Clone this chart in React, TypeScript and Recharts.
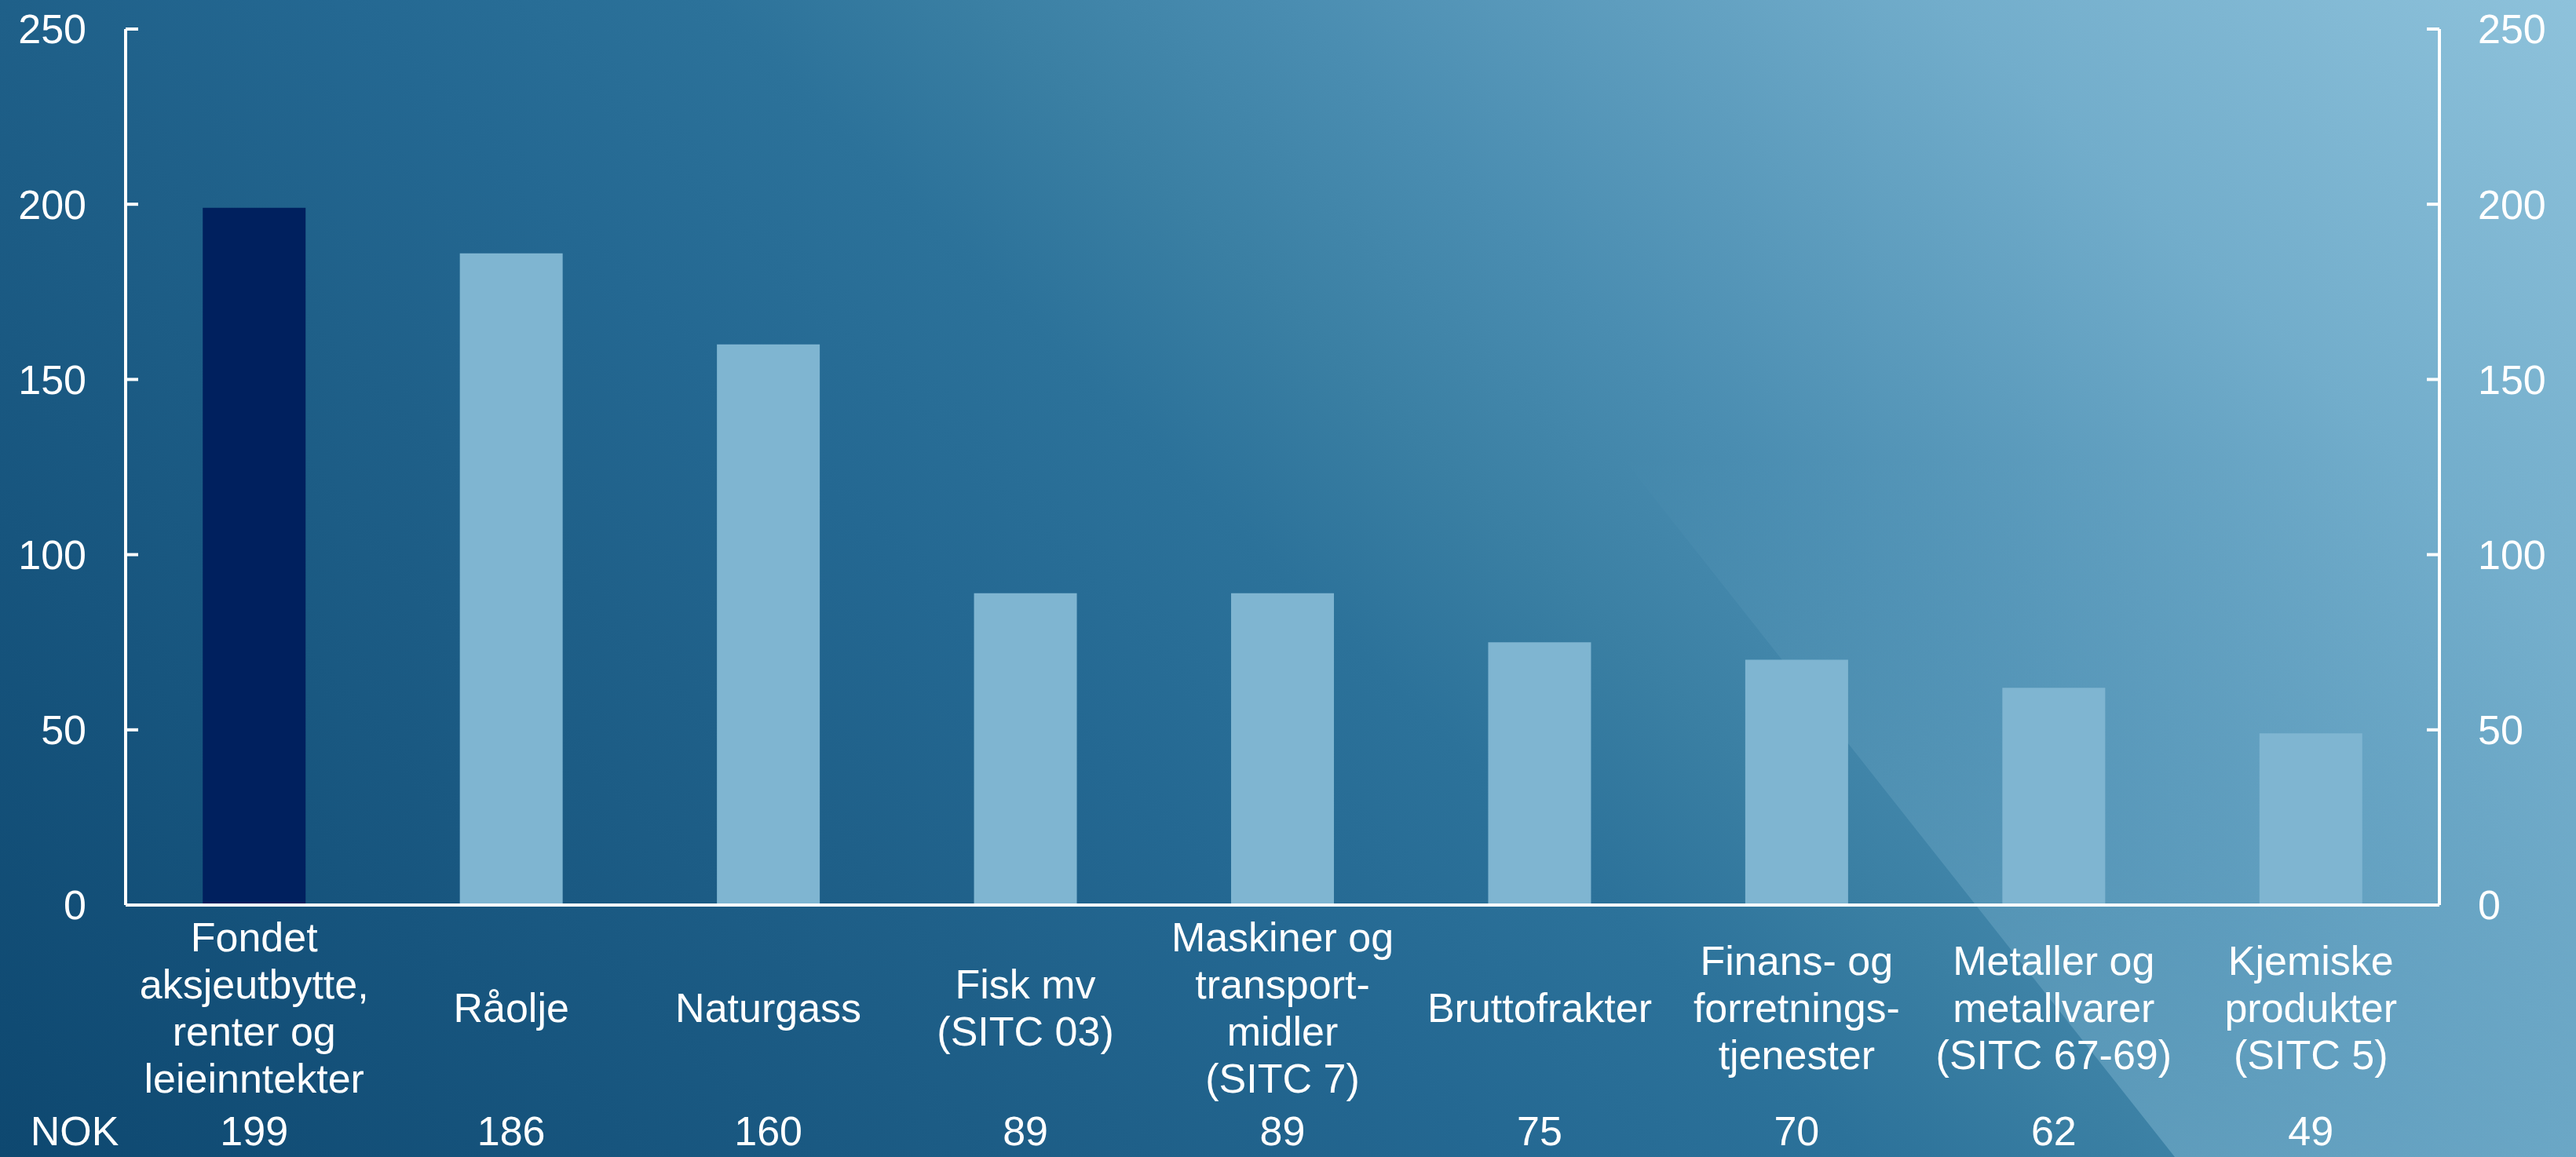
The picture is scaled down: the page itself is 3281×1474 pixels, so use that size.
import React from 'react';
import { ComposedChart, Bar, Line, XAxis, YAxis, Cell } from 'recharts';

const W = 3281;
const H = 1474;
const FONT = '"Liberation Sans", Arial, sans-serif';

// categories (ids) and how their labels wrap
const categories = ['fondet', 'raolje', 'naturgass', 'fisk', 'maskiner', 'brutto', 'finans', 'metaller', 'kjemiske'];
const labelLines = [
    ['Fondet', 'aksjeutbytte,', 'renter og', 'leieinntekter'],
    ['Råolje'],
    ['Naturgass'],
    ['Fisk mv', '(SITC 03)'],
    ['Maskiner og', 'transport-', 'midler', '(SITC 7)'],
    ['Bruttofrakter'],
    ['Finans- og', 'forretnings-', 'tjenester'],
    ['Metaller og', 'metallvarer', '(SITC 67-69)'],
    ['Kjemiske', 'produkter', '(SITC 5)'],
];
// NOK, milliarder
const values = [199, 186, 160, 89, 89, 75, 70, 62, 49];
const highlighted = ['fondet'];
const yTicks = [0, 50, 100, 150, 200, 250];

const data = categories.map((name, i) => ({ name, value: values[i] }));

const CategoryTick = (props: any) => {
    const { x, y, payload } = props;
    const i = categories.indexOf(payload.value);
    const lines = labelLines[i];
    const firstBaseline = y + 149 - (lines.length - 1) * 30;
    return (
        <g>
            <text x={x} y={firstBaseline} textAnchor="middle" fill="#fff" fontSize={52} fontFamily={FONT}>
                {lines.map((l, k) => (
                    <tspan key={k} x={x} dy={k === 0 ? 0 : 60}>{l}</tspan>
                ))}
            </text>
            <text x={x} y={y + 306} textAnchor="middle" fill="#fff" fontSize={52} fontFamily={FONT}>
                {values[i]}
            </text>
            {i === 0 && (
                <text x={95} y={y + 306} textAnchor="middle" fill="#fff" fontSize={52} fontFamily={FONT}>
                    NOK
                </text>
            )}
        </g>
    );
};

const Background = () => (
    <svg width={W} height={H} style={{ position: 'absolute', left: 0, top: 0 }}>
        <defs>
            <linearGradient id="bg45" gradientUnits="userSpaceOnUse" x1={0} y1={H} x2={(W + H) / 2} y2={H - (W + H) / 2}>
                <stop offset="0" stopColor="#0e4870" />
                <stop offset="0.17" stopColor="#17557e" />
                <stop offset="0.31" stopColor="#1f6089" />
                <stop offset="0.4" stopColor="#246892" />
                <stop offset="0.5" stopColor="#2c729a" />
                <stop offset="0.57" stopColor="#3a7fa3" />
                <stop offset="0.655" stopColor="#4a8db1" />
                <stop offset="0.83" stopColor="#72adcb" />
                <stop offset="1" stopColor="#8ec2db" />
            </linearGradient>
            <linearGradient id="shade" gradientUnits="userSpaceOnUse" x1={0} y1={580} x2={0} y2={H}>
                <stop offset="0" stopColor="#8ec2db" stopOpacity={0} />
                <stop offset="1" stopColor="#8ec2db" stopOpacity={0.42} />
            </linearGradient>
        </defs>
        <rect x={0} y={0} width={W} height={H} fill="url(#bg45)" />
        <polygon points={`1606,0 ${W},0 ${W},${H} 2770,${H}`} fill="url(#shade)" />
    </svg>
);

export default function App() {
    const axisStyle = { stroke: '#fff', strokeWidth: 4 };
    const tickStyle = { fill: '#fff', fontSize: 52, fontFamily: FONT };
    return (
        <div style={{ position: 'absolute', left: 0, top: 0, width: W, height: H, overflow: 'hidden' }}>
            <Background />
            <div style={{ position: 'absolute', left: 0, top: 0 }}>
                <ComposedChart
                    width={W}
                    height={H}
                    data={data}
                    margin={{ top: 37, right: 54, left: 40, bottom: 21 }}
                    barCategoryGap="30%"
                >
                    <XAxis
                        dataKey="name"
                        height={300}
                        interval={0}
                        tickLine={false}
                        tickSize={0}
                        tickMargin={0}
                        axisLine={axisStyle}
                        tick={<CategoryTick />}
                    />
                    <YAxis
                        yAxisId="left"
                        orientation="left"
                        width={120}
                        domain={[0, 250]}
                        ticks={yTicks}
                        tickSize={-16}
                        tickMargin={66}
                        axisLine={axisStyle}
                        tickLine={axisStyle}
                        tick={tickStyle}
                    />
                    <YAxis
                        yAxisId="right"
                        orientation="right"
                        width={120}
                        domain={[0, 250]}
                        ticks={yTicks}
                        tickSize={-16}
                        tickMargin={65}
                        axisLine={axisStyle}
                        tickLine={axisStyle}
                        tick={tickStyle}
                    />
                    <Bar yAxisId="left" dataKey="value" isAnimationActive={false}>
                        {data.map((d) => (
                            <Cell key={d.name} fill={highlighted.includes(d.name) ? '#00205e' : '#7fb5d1'} />
                        ))}
                    </Bar>
                    {/* invisible series so the right axis gets its scale */}
                    <Line
                        yAxisId="right"
                        dataKey="value"
                        stroke="none"
                        dot={false}
                        activeDot={false}
                        isAnimationActive={false}
                    />
                </ComposedChart>
            </div>
        </div>
    );
}
